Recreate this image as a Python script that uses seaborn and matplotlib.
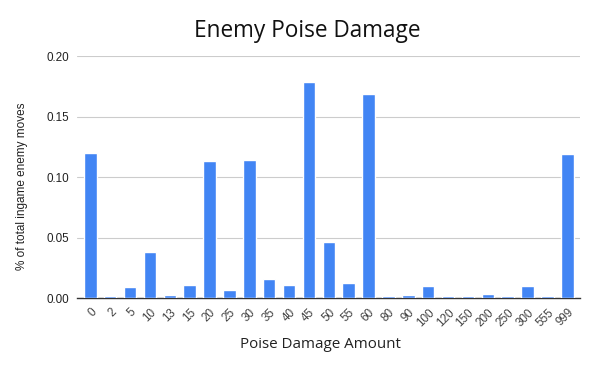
import matplotlib
matplotlib.use("Agg")
import matplotlib.pyplot as plt
import pandas as pd
import seaborn as sns

# data
damage = ['0', '2', '5', '10', '13', '15', '20', '25', '30', '35', '40', '45', '50',
          '55', '60', '80', '90', '100', '120', '150', '200', '250', '300', '555', '999']
share = [0.120, 0.0015, 0.009, 0.038, 0.0027, 0.011, 0.113, 0.0069, 0.114, 0.016, 0.011,
         0.179, 0.0465, 0.0124, 0.1686, 0.0015, 0.0027, 0.0102, 0.0015, 0.0015, 0.0035,
         0.0015, 0.0102, 0.0015, 0.119]
y_ticks = [0.0, 0.05, 0.10, 0.15, 0.20]

df = pd.DataFrame({'damage': damage, 'share': share})

sns.set_style("white")
plt.rcParams['font.family'] = ['Liberation Sans', 'DejaVu Sans']

fig = plt.figure(figsize=(5.97, 3.69), dpi=100)
ax = fig.add_axes([0.129, 0.192, 0.843, 0.656])

sns.barplot(data=df, x='damage', y='share', order=damage, color='#4285F4',
            saturation=1, width=0.63, ax=ax, zorder=3)

ax.set_xlim(-0.67, 24.65)
ax.set_ylim(0, 0.2)
ax.set_yticks(y_ticks)
ax.set_yticklabels([f"{v:.2f}" for v in y_ticks], fontsize=8.4, color='#222222')
ax.yaxis.grid(True, color='#cccccc', linewidth=0.8, zorder=0)
ax.tick_params(axis='both', length=0, pad=6)
plt.setp(ax.get_xticklabels(), rotation=45, ha='right', rotation_mode='anchor',
         fontsize=8.4, color='#444444')

for side in ['top', 'right', 'left']:
    ax.spines[side].set_visible(False)
ax.spines['bottom'].set_color('#333333')
ax.spines['bottom'].set_linewidth(1.0)
ax.spines['bottom'].set_zorder(2)

ax.set_ylabel('% of total ingame enemy moves', fontsize=8.5, color='#222222')
ax.yaxis.set_label_coords(-0.097, 0.463)
ax.set_xlabel('Poise Damage Amount', fontsize=10.9, color='#222222', family='Open Sans')
ax.xaxis.set_label_coords(0.483, -0.16)
fig.text(0.515, 1 - 36.7 / 369, 'Enemy Poise Damage', ha='center', va='baseline',
         fontsize=16.3, family='Open Sans', color='#111111')

fig.savefig('out.png', dpi=100)
